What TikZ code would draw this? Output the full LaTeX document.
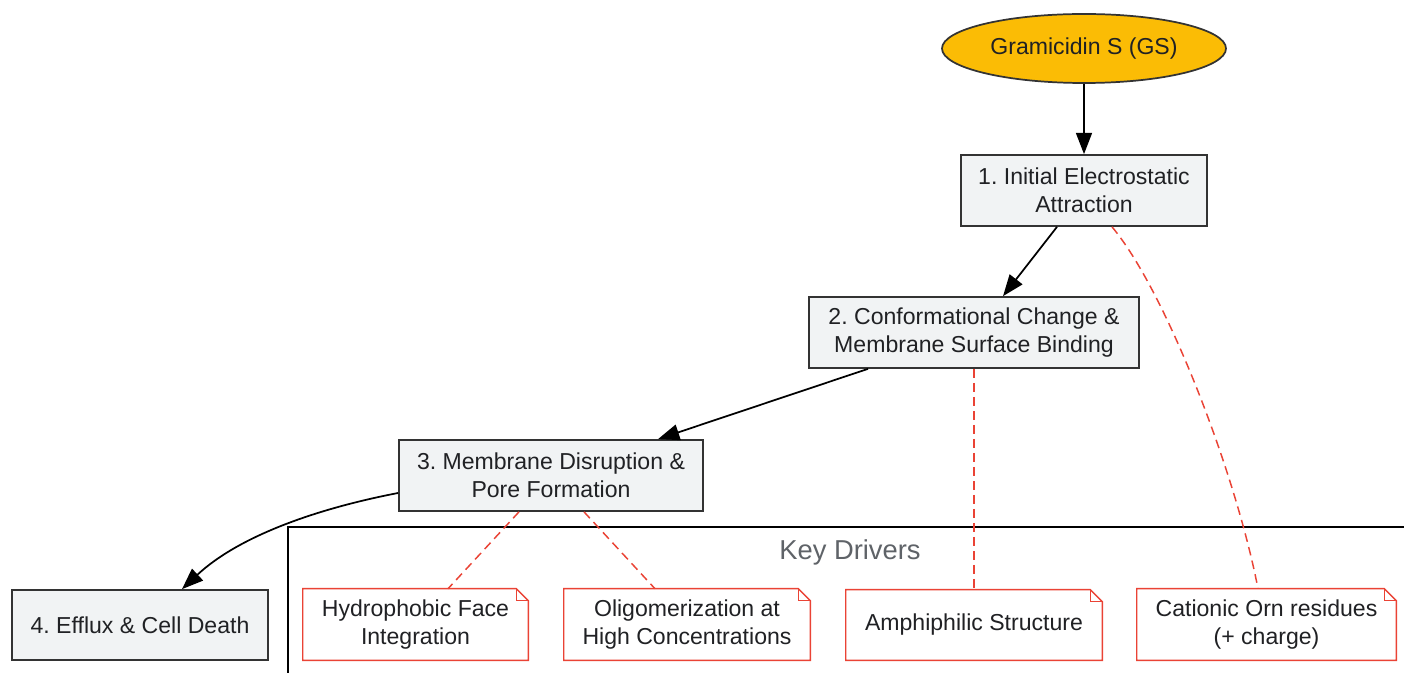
\documentclass[tikz,border=0pt]{standalone}
\usepackage{fontspec}
\setmainfont{Liberation Sans}
\usetikzlibrary{shapes.geometric,arrows.meta}
\definecolor{gsfill}{HTML}{FBBC05}
\definecolor{boxfill}{HTML}{F1F3F4}
\definecolor{boxline}{HTML}{333333}
\definecolor{txt}{HTML}{202124}
\definecolor{redline}{HTML}{EA4335}
\definecolor{clustertxt}{HTML}{5F6368}
\frenchspacing
\begin{document}
\begin{tikzpicture}[x=0.75pt,y=-0.75pt,
  font=\fontsize{17.3pt}{21pt}\selectfont,
  every node/.style={text=txt, align=center, inner sep=0pt},
  stepbox/.style={rectangle, draw=boxline, fill=boxfill, line width=1.3pt},
  notebox/.style={rectangle, fill=white},
  flow/.style={line width=1.3pt, -{Triangle[length=16pt,width=12pt]}},
  drive/.style={draw=redline, line width=1.1pt, dash pattern=on 6.5pt off 4pt},
]
\useasboundingbox (0,0) rectangle (1404,673);
\fill[white] (0,0) rectangle (1404,673);

% cluster frame
\draw[line width=1.3pt, black] (288,690) -- (288,527) -- (1420,527);
\node[text=clustertxt, font=\fontsize{20.5pt}{24pt}\selectfont] (kd) at (850,552) {Key Drivers};

% nodes
\node[ellipse, draw=boxline, fill=gsfill, line width=1.3pt, minimum width=284*0.75pt, minimum height=69*0.75pt] (gs) at (1084,48.5) {Gramicidin S (GS)};
\node[stepbox, minimum width=246*0.75pt, minimum height=71*0.75pt] (s1) at (1084,190.5) {1. Initial Electrostatic\\Attraction};
\node[stepbox, minimum width=330*0.75pt, minimum height=71*0.75pt] (s2) at (974,332.5) {2. Conformational Change \&\\Membrane Surface Binding};
\node[stepbox, minimum width=304*0.75pt, minimum height=71*0.75pt] (s3) at (551,475.5) {3. Membrane Disruption \&\\Pore Formation};
\node[stepbox, minimum width=256*0.75pt, minimum height=70*0.75pt] (s4) at (140,625) {4. Efflux \& Cell Death};

\node[notebox, minimum width=225*0.75pt, minimum height=71*0.75pt] (n1) at (415.5,624.5) {Hydrophobic Face\\Integration};
\node[notebox, minimum width=246*0.75pt, minimum height=71*0.75pt] (n2) at (687,624.5) {Oligomerization at\\High Concentrations};
\node[notebox, minimum width=256*0.75pt, minimum height=70*0.75pt] (n3) at (974,625) {Amphiphilic Structure};
\node[notebox, minimum width=259*0.75pt, minimum height=71*0.75pt] (n4) at (1266.5,624.5) {Cationic Orn residues\\(+ charge)};

% note outlines with folded corner
\foreach \n in {n1,n2,n3,n4}{
  \draw[draw=redline, line width=1.1pt, line join=miter]
    (\n.south west) -- (\n.north west) -- ([xshift=-9pt]\n.north east)
    -- ([yshift=-9pt]\n.north east) -- (\n.south east) -- cycle;
  \draw[draw=redline, line width=1.1pt]
    ([xshift=-9pt]\n.north east) -- ([xshift=-9pt,yshift=-9pt]\n.north east)
    -- ([yshift=-9pt]\n.north east);
}

% flow edges
\draw[flow] (gs.south) -- (s1.north);
\draw[flow] ([xshift=-27*0.75pt]s1.south) -- ([xshift=29*0.75pt]s2.north);
\draw[flow] ([xshift=-106*0.75pt]s2.south) -- ([xshift=107*0.75pt]s3.north);
\draw[flow] ([yshift=-17.5*0.75pt]s3.west) .. controls (320,508) and (240,535) .. ([xshift=42*0.75pt]s4.north);

% driver edges
\draw[drive] ([xshift=-32*0.75pt]s3.south) -- ([xshift=32.5*0.75pt]n1.north);
\draw[drive] ([xshift=33*0.75pt]s3.south) -- ([xshift=-32*0.75pt]n2.north);
\draw[drive] (s2.south) -- (n3.north);
\draw[drive] ([xshift=28*0.75pt]s1.south) .. controls (1165,290) and (1235,470) .. ([xshift=-8.5*0.75pt]n4.north);
\end{tikzpicture}
\end{document}
